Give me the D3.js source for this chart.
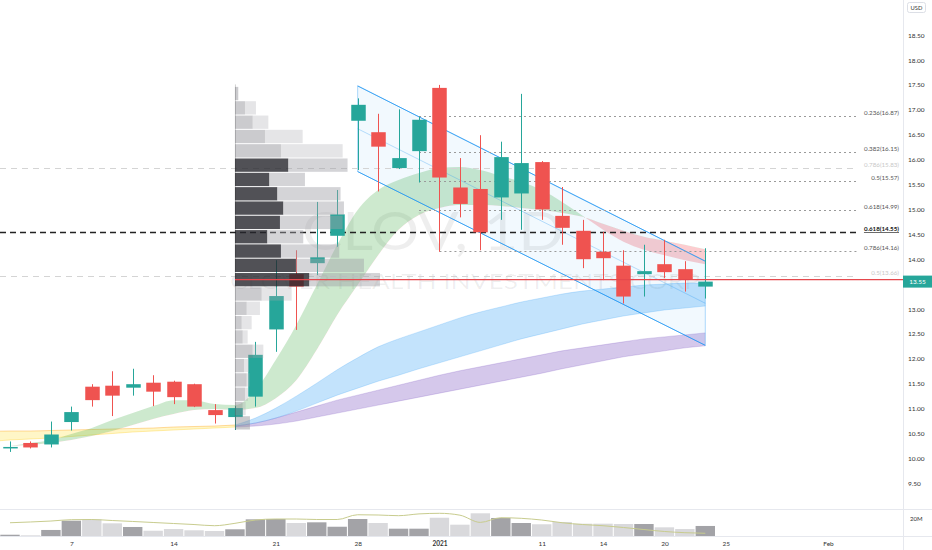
<!DOCTYPE html>
<html><head><meta charset="utf-8">
<script src="https://cdn.jsdelivr.net/npm/d3@7"></script>
<style>body{margin:0;background:#fff}svg{display:block;font-family:Lato,"Open Sans",sans-serif}</style>
</head><body><svg id="c" width="932" height="550"></svg>
<script>
// ---------- DATA ----------
const opens  = [10.21,10.31,10.28,10.73,11.44,11.46,11.42,11.52,11.54,11.49,10.97,10.83,11.24,12.59,13.70,13.92,14.47,16.78,16.55,15.83,16.17,17.44,15.44,15.41,15.24,15.32,15.95,14.87,14.57,14.15,13.87,13.70,13.90,13.80,13.45];
const highs  = [10.34,10.34,10.74,11.04,11.49,11.75,11.80,11.67,11.56,11.50,11.09,11.05,12.34,13.98,14.18,15.15,15.39,17.23,16.92,17.01,16.86,17.50,16.03,16.49,16.36,17.32,15.97,15.45,14.79,14.55,14.18,14.29,14.39,13.96,14.22];
const lows   = [10.13,10.20,10.22,10.56,11.04,10.85,11.26,11.05,11.09,11.03,10.70,10.57,11.04,12.14,12.58,13.68,14.25,15.79,15.36,15.81,15.54,14.15,14.84,14.18,14.79,14.59,14.79,14.29,13.82,13.58,13.11,13.25,13.62,13.35,13.21];
const closes = [10.23,10.22,10.48,10.93,11.17,11.26,11.49,11.34,11.23,11.04,10.87,11.01,12.08,13.26,13.45,14.04,14.90,17.10,16.26,16.03,16.80,15.64,15.11,14.54,16.05,15.93,15.00,14.63,14.00,14.02,13.25,13.76,13.74,13.60,13.55];
const volumesM = [1.5,0.8,7.1,18.0,19.6,14.9,10.6,6.2,8.2,6.7,5.9,7.9,19.6,20.0,15.3,16.1,10.9,20.0,15.3,8.6,8.6,21.5,13.3,26.7,21.2,15.3,13.8,16.5,14.5,14.5,14.1,14.1,10.2,8.2,11.8];
const volMA = [15.6,16.5,17.6,19.2,19.4,18.2,17.1,15.9,14.7,13.5,12.1,14.9,18.8,20.0,20.0,19.4,19.4,25.0,24.7,23.9,26.0,26.7,24.5,16.0,21.5,20.8,18.8,15.6,13.5,12.1,10.0,7.6,5.3,3.9,3.2];

const timeTickIdx = [3,8,13,17,21,26,29,32,35,40];
const timeTickLabels = ["7","14","21","28","2021","11","14","20","25","Feb"];
const priceTicks = [9.5,10,10.5,11,11.5,12,12.5,13,14,14.5,15,15.5,16,16.5,17,17.5,18,18.5];
const lastPrice = 13.55;

// EMA ribbons
const greenFast = [10.25,10.31,10.37,10.49,10.61,10.77,10.91,11.05,11.17,11.17,11.09,11.07,11.37,11.98,12.68,13.48,14.29,14.99,15.39,15.59,15.73,15.83,15.85,15.79,15.67,15.55,15.39,15.15,14.87,14.59,14.35,14.19,14.08,13.98,13.90];
const greenSlow = [10.25,10.27,10.31,10.37,10.45,10.55,10.67,10.79,10.89,10.97,10.99,10.97,11.01,11.21,11.57,12.18,12.88,13.48,14.08,14.59,14.89,15.03,15.09,15.09,15.07,15.03,14.99,14.93,14.85,14.71,14.57,14.45,14.37,14.29,14.20];
const ribbonStart = 11;
const blueTop = [10.67,10.81,11.01,11.25,11.51,11.78,12.02,12.24,12.40,12.54,12.68,12.82,12.94,13.04,13.14,13.22,13.30,13.36,13.40,13.44,13.48,13.50,13.52,13.52];
const blueBot = [10.65,10.71,10.81,10.95,11.11,11.27,11.41,11.55,11.67,11.80,11.92,12.04,12.16,12.28,12.40,12.50,12.60,12.70,12.78,12.86,12.92,12.98,13.02,13.06];
const purpleTop = [10.65,10.71,10.81,10.93,11.05,11.17,11.27,11.37,11.47,11.57,11.67,11.76,11.84,11.92,12.00,12.08,12.16,12.22,12.28,12.34,12.40,12.44,12.48,12.52];
const purpleBot = [10.63,10.65,10.69,10.75,10.83,10.91,10.99,11.07,11.15,11.23,11.31,11.39,11.47,11.55,11.63,11.71,11.80,11.88,11.96,12.04,12.10,12.16,12.22,12.26];
// long EMAs from the bar before the first visible one (index -1)
const longStart = -1;
const orangeLine = [10.54,10.55,10.55,10.56,10.57,10.58,10.59,10.60,10.61,10.63,10.64,10.65,10.67];
const yellowLow  = [10.34,10.37,10.39,10.41,10.44,10.47,10.50,10.53,10.55,10.57,10.59,10.61,10.63];

// parallel channel
const chanIdx = [17,34];
const chanTop = [17.48,13.96];
const chanBot = [15.76,12.27];

// fibonacci levels
const fibRatios = ["0.236","0.382","0.786","0.5","0.618","0.618","0.786","0.5"];
const fibPrices = [16.87,16.15,15.83,15.57,14.99,14.55,14.16,13.66];
const fibStartIdx = [20,20,null,20,20,null,21,null];
const fibKind = ["dot","dot","faint","dot","dot","bold","dot","faint"];

// volume profile (visible range), rows from top
const vpHigh = 17.47, vpLow = 10.57, vpStartIdx = 11;
const vpUpM   = [0.33,1.0,1.77,3.0,4.6,5.33,3.43,4.23,4.83,4.5,3.23,4.6,6.1,7.43,2.67,1.17,0.67,0.77,1.77,0.9,1.17,1.0,0.77,1.5];
const vpDownM = [0,1.1,1.57,3.77,6.17,5.93,3.57,6.33,6.07,6.27,3.6,5.83,6.8,7.07,3.0,1.33,1.0,0.5,1.07,0.5,0.3,0.3,0.3,0];
const vpValueArea = [5,13];

const symbolTitle = "CLOV, 1D";
const symbolName = "CLOVER HEALTH INVESTMENTS CORP";

// ---------- DRAW ----------
const svg = d3.select('#c');
const x = d3.scaleLinear().domain([0,34]).range([10,705.3]);
const y = d3.scaleLinear().domain([13,18.5]).range([309,35.1]);
const yv = d3.scaleLinear().domain([0,20]).range([536,519]);
const vpW = d3.scaleLinear().domain([0,1]).range([0,10]);
const idx = d3.range(closes.length);
const up = i => closes[i] >= opens[i];
const GREEN = '#26a69a', RED = '#ef5350';

svg.append('rect').attr('width',932).attr('height',550).attr('fill','#fff');
const defs = svg.append('defs');
defs.append('clipPath').attr('id','pane').append('rect').attr('x',0).attr('y',0).attr('width',903).attr('height',509);
const g = svg.append('g').attr('clip-path','url(#pane)');

// watermark
g.append('text').attr('x',433).attr('y',250).attr('text-anchor','middle')
  .attr('font-size',52).attr('textLength',262).attr('lengthAdjust','spacingAndGlyphs')
  .attr('fill','rgba(0,0,0,0.065)').text(symbolTitle);
g.append('text').attr('x',465).attr('y',289).attr('text-anchor','middle')
  .attr('font-size',22).attr('textLength',470).attr('lengthAdjust','spacingAndGlyphs')
  .attr('fill','rgba(0,0,0,0.065)').text(symbolName);

// left yellow/orange ribbon
const li = d3.range(orangeLine.length);
const lx = i => x(i + longStart);
g.append('path').datum(li).attr('fill','rgba(255,214,0,0.22)')
  .attr('d', d3.area().x(lx).y0(i=>y(yellowLow[i])).y1(i=>y(orangeLine[i])).curve(d3.curveMonotoneX));
g.append('path').datum(li).attr('fill','none').attr('stroke','rgba(255,152,0,0.35)').attr('stroke-width',1)
  .attr('d', d3.line().x(lx).y(i=>y(orangeLine[i])).curve(d3.curveMonotoneX));
g.append('path').datum(li).attr('fill','none').attr('stroke','rgba(255,200,0,0.3)').attr('stroke-width',1)
  .attr('d', d3.line().x(lx).y(i=>y(yellowLow[i])).curve(d3.curveMonotoneX));

// purple & blue ribbons
const ri = d3.range(blueTop.length);
function band(top, bot, fill, stroke){
  g.append('path').datum(ri).attr('fill',fill)
   .attr('d', d3.area().x(i=>x(i+ribbonStart)).y0(i=>y(bot[i])).y1(i=>y(top[i])).curve(d3.curveMonotoneX));
  [top,bot].forEach(arr=>g.append('path').datum(ri).attr('fill','none').attr('stroke',stroke).attr('stroke-width',0.8)
   .attr('d', d3.line().x(i=>x(i+ribbonStart)).y(i=>y(arr[i])).curve(d3.curveMonotoneX)));
}
band(purpleTop, purpleBot, 'rgba(103,58,183,0.28)', 'rgba(103,58,183,0.25)');
band(blueTop, blueBot, 'rgba(33,150,243,0.27)', 'rgba(33,150,243,0.25)');

// green/red ribbon (difference chart)
defs.append('clipPath').attr('id','above').append('path').datum(idx)
  .attr('d', d3.area().x(i=>x(i)).y1(i=>y(greenSlow[i])).y0(0).curve(d3.curveMonotoneX));
defs.append('clipPath').attr('id','below').append('path').datum(idx)
  .attr('d', d3.area().x(i=>x(i)).y1(i=>y(greenSlow[i])).y0(550).curve(d3.curveMonotoneX));
const bandGR = d3.area().x(i=>x(i)).y0(i=>y(greenSlow[i])).y1(i=>y(greenFast[i])).curve(d3.curveMonotoneX);
g.append('path').datum(idx).attr('clip-path','url(#above)').attr('fill','rgba(76,175,80,0.28)').attr('d',bandGR);
g.append('path').datum(idx).attr('clip-path','url(#below)').attr('fill','rgba(242,54,69,0.25)').attr('d',bandGR);

// parallel channel
const cp = [[x(chanIdx[0]),y(chanTop[0])],[x(chanIdx[1]),y(chanTop[1])],[x(chanIdx[1]),y(chanBot[1])],[x(chanIdx[0]),y(chanBot[0])]];
g.append('path').attr('d','M'+cp.join('L')+'Z').attr('fill','rgba(33,150,243,0.06)').attr('stroke','rgba(33,150,243,0.45)').attr('stroke-width',0.8);
g.append('line').attr('x1',x(chanIdx[0])).attr('y1',y(chanTop[0])).attr('x2',x(chanIdx[1])).attr('y2',y(chanTop[1])).attr('stroke','rgba(33,150,243,0.8)');
g.append('line').attr('x1',x(chanIdx[0])).attr('y1',y(chanBot[0])).attr('x2',x(chanIdx[1])).attr('y2',y(chanBot[1])).attr('stroke','rgba(33,150,243,0.8)');
g.append('line').attr('x1',x(chanIdx[0])).attr('y1',y((chanTop[0]+chanBot[0])/2)).attr('x2',x(chanIdx[1])).attr('y2',y((chanTop[1]+chanBot[1])/2)).attr('stroke','rgba(33,150,243,0.3)');

// fib levels
const fibEnd = 858;
fibPrices.forEach((p,k)=>{
  const kind = fibKind[k];
  const x1 = fibStartIdx[k]==null ? 0 : x(fibStartIdx[k]);
  const yy = Math.round(y(p))+0.5;
  g.append('line').attr('x1',x1).attr('x2',fibEnd).attr('y1',yy).attr('y2',yy)
    .attr('stroke', kind==='bold' ? '#222' : kind==='faint' ? '#d4d4d4' : '#9a9a9a')
    .attr('stroke-width', kind==='bold' ? 1.4 : 1)
    .attr('stroke-dasharray', kind==='bold' ? '6,4' : kind==='faint' ? '6,5' : '2,3');
  g.append('text').attr('x',899).attr('y',yy-1.5).attr('text-anchor','end').attr('font-size',6.2)
    .attr('fill', kind==='bold' ? '#111' : kind==='faint' ? '#c8c8c8' : '#555')
    .attr('font-weight', kind==='bold' ? 700 : 400)
    .attr('text-decoration', kind==='bold' ? 'underline' : null)
    .text(fibRatios[k]+'('+p.toFixed(2)+')');
});

// candles
const bw = 14.5;
const cg = g.append('g');
cg.selectAll('line.w').data(idx).join('line')
  .attr('x1',i=>Math.round(x(i))+0.5).attr('x2',i=>Math.round(x(i))+0.5)
  .attr('y1',i=>y(highs[i])).attr('y2',i=>y(lows[i]))
  .attr('stroke',i=>up(i)?GREEN:RED).attr('stroke-width',1);
cg.selectAll('rect').data(idx).join('rect')
  .attr('x',i=>Math.round(x(i))+0.5-bw/2).attr('width',bw)
  .attr('y',i=>y(Math.max(opens[i],closes[i])))
  .attr('height',i=>Math.max(1.5, Math.abs(y(opens[i])-y(closes[i]))))
  .attr('fill',i=>up(i)?GREEN:RED);

// volume profile (drawn over candles)
const nRows = vpUpM.length, step = (vpHigh - vpLow)/nRows;
const vx0 = x(vpStartIdx);
const vg = g.append('g');
vpUpM.forEach((u,k)=>{
  const yt = y(vpHigh - k*step), yb = y(vpHigh - (k+1)*step);
  const inVA = k>=vpValueArea[0] && k<=vpValueArea[1];
  vg.append('rect').attr('x',vx0).attr('y',yt+0.5).attr('width',vpW(u)).attr('height',yb-yt-1)
    .attr('fill', inVA ? 'rgba(38,38,44,0.8)' : 'rgba(140,140,146,0.45)');
  vg.append('rect').attr('x',vx0+vpW(u)).attr('y',yt+0.5).attr('width',vpW(vpDownM[k])).attr('height',yb-yt-1)
    .attr('fill', inVA ? 'rgba(160,160,166,0.45)' : 'rgba(170,170,176,0.3)');
});
vg.append('line').attr('x1',vx0+0.5).attr('x2',vx0+0.5).attr('y1',y(vpHigh)-2).attr('y2',y(vpLow))
  .attr('stroke','rgba(0,0,0,0.18)');
// POC line
const tot = vpUpM.map((u,k)=>u+vpDownM[k]);
const pocK = tot.indexOf(d3.max(tot));
const pocY = y(vpHigh - (pocK+0.5)*step);
g.append('line').attr('x1',vx0).attr('x2',903).attr('y1',pocY).attr('y2',pocY).attr('stroke','#e5484d').attr('stroke-width',1.3);

// volume pane
svg.selectAll('rect.vol').data(idx).join('rect').attr('class','vol')
  .attr('x',i=>x(i)-9.7).attr('width',19.4)
  .attr('y',i=>yv(volumesM[i])).attr('height',i=>536-yv(volumesM[i]))
  .attr('fill',i=>up(i)?'#a3a3a7':'#d9d9dc');
svg.append('path').datum(idx).attr('fill','none').attr('stroke','#c8cc8e').attr('stroke-width',1)
  .attr('d', d3.line().x(i=>x(i)).y(i=>yv(volMA[i])).curve(d3.curveMonotoneX));

// separators
svg.append('line').attr('x1',0).attr('x2',932).attr('y1',509.5).attr('y2',509.5).attr('stroke','#e6e8ee');
svg.append('line').attr('x1',0).attr('x2',932).attr('y1',536.5).attr('y2',536.5).attr('stroke','#e6e8ee');
svg.append('line').attr('x1',903.5).attr('x2',903.5).attr('y1',0).attr('y2',550).attr('stroke','#e6e8ee');

// price axis
const pa = svg.append('g').attr('transform','translate(906,0)')
  .call(d3.axisRight(y).tickValues(priceTicks).tickSize(0).tickFormat(d3.format('.2f')));
pa.select('.domain').remove();
pa.selectAll('text').attr('x',2).attr('font-size',6.5).attr('fill','#333').attr('font-family','Lato,"Open Sans",sans-serif');

// volume axis
const va = svg.append('g').attr('transform','translate(906,0)')
  .call(d3.axisRight(yv).tickValues([20]).tickSize(0).tickFormat(d=>d+'M'));
va.select('.domain').remove();
va.selectAll('text').attr('x',4).attr('font-size',6).attr('fill','#333').attr('font-family','Lato,"Open Sans",sans-serif');

// USD box
svg.append('rect').attr('x',907.5).attr('y',2.5).attr('width',18).attr('height',10).attr('rx',2)
  .attr('fill','#fff').attr('stroke','#dcdfe6');
svg.append('text').attr('x',916.5).attr('y',10).attr('text-anchor','middle').attr('font-size',5.8).attr('fill','#333').text('USD');

// last price label
svg.append('rect').attr('x',903).attr('y',y(lastPrice)-6).attr('width',29).attr('height',12).attr('fill',GREEN);
svg.append('text').attr('x',917.5).attr('y',y(lastPrice)+2.3).attr('text-anchor','middle').attr('font-size',6.5).attr('fill','#fff').text(lastPrice.toFixed(2));

// time axis
const ta = svg.append('g').attr('transform','translate(0,537)')
  .call(d3.axisBottom(x).tickValues(timeTickIdx).tickSize(0).tickFormat((d,i)=>timeTickLabels[i]));
ta.select('.domain').remove();
ta.selectAll('text').attr('y',4).attr('font-size',6.5).attr('fill','#333').attr('font-family','Lato,"Open Sans",sans-serif')
  .attr('font-weight',(d,i)=>timeTickLabels[i]==='2021'?700:400);
</script>
</body></html>
